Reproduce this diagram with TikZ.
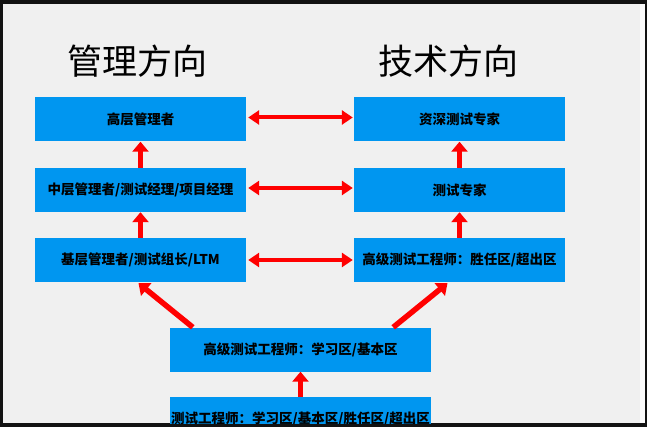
\documentclass[tikz,border=0pt]{standalone}
\usepackage{fontspec}
\setmainfont{Noto Sans CJK SC}
\usetikzlibrary{arrows.meta,calc}
\definecolor{boxblue}{RGB}{0,150,240}
\definecolor{pagegray}{RGB}{240,240,240}

\begin{document}
\begin{tikzpicture}[x=1pt,y=-1pt,
        stagebox/.style={fill=boxblue, minimum width=211pt, minimum height=44pt, inner sep=0pt,
            font=\fontsize{13.5}{14}\selectfont\bfseries},
        widebox/.style={stagebox, minimum width=261pt},
        uparrow/.style={red, line width=5.5pt, -{Triangle[width=16pt,length=10pt]}},
        bothways/.style={red, line width=4pt,
            {Triangle[width=14pt,length=11pt]}-{Triangle[width=14pt,length=11pt]}}]
        \useasboundingbox (0,0) rectangle (647,427);

        % Frame
        \fill[black!93] (0,0) rectangle (647,427);
        \fill[pagegray] (3,4) rectangle (640,423);
        \fill[white!97!gray] (640,4) rectangle (645,423);

        % Column titles
        \node[font=\fontsize{35}{36}\selectfont] (mgrTitle) at (137,61) {管理方向};
        \node[font=\fontsize{35}{36}\selectfont] (techTitle) at (448,61) {技术方向};

        % Management path
        \node[stagebox] (mgrTop) at (140.5,119.5) {高层管理者};
        \node[stagebox] (mgrMid) at (140.5,190) {中层管理者/测试经理/项目经理};
        \node[stagebox] (mgrLow) at (140.5,260) {基层管理者/测试组长/LTM};

        % Technical path
        \node[stagebox] (techTop) at (459.5,119.5) {资深测试专家};
        \node[stagebox] (techMid) at (459.5,190) {测试专家};
        \node[stagebox] (techLow) at (459.5,260) {高级测试工程师：胜任区/超出区};

        % Common start
        \node[widebox] (senior) at (300.5,349.5) {高级测试工程师：学习区/基本区};
        \begin{scope}
            \clip (3,4) rectangle (645,423);
            \node[widebox] (junior) at (300.5,419) {测试工程师：学习区/基本区/胜任区/超出区};
        \end{scope}

        % Promotions
        \draw[uparrow] (mgrMid.north) -- (mgrTop.south);
        \draw[uparrow] (mgrLow.north) -- (mgrMid.south);
        \draw[uparrow] (techMid.north) -- (techTop.south);
        \draw[uparrow] (techLow.north) -- (techMid.south);
        \draw[uparrow] (junior.north) -- (senior.south);
        \draw[uparrow] ($(senior.north west)+(23,0)$) -- ($(mgrLow.south)+(-2,1)$);
        \draw[uparrow] ($(senior.north east)+(-38,0)$) -- ($(techLow.south)+(-12,1)$);

        % Switching between paths
        \draw[bothways] ([shift={(2pt,2pt)}]mgrTop.east) -- ([shift={(-1pt,2pt)}]techTop.west);
        \draw[bothways] ([shift={(2pt,2pt)}]mgrMid.east) -- ([shift={(-1pt,2pt)}]techMid.west);
        \draw[bothways] ([xshift=2pt]mgrLow.east) -- ([xshift=-1pt]techLow.west);
\end{tikzpicture}
\end{document}
